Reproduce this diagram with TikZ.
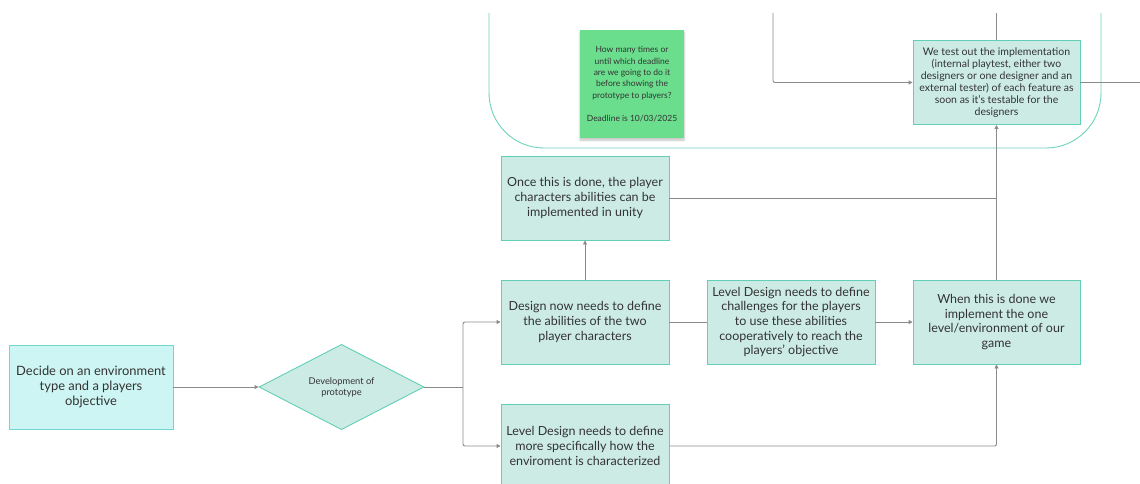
\documentclass[tikz,border=0pt]{standalone}
\usepackage{fontspec}
\setmainfont{Lato}
\usetikzlibrary{arrows.meta,shapes.geometric,shadows.blur}
\definecolor{boxfill}{HTML}{CCEBE5}
\definecolor{boxline}{HTML}{62CFB6}
\definecolor{startfill}{HTML}{CDF5F3}
\definecolor{startline}{HTML}{70D8D4}
\definecolor{wire}{HTML}{8A8A8A}
\definecolor{frame}{HTML}{6CD3BC}
\definecolor{note}{HTML}{6BDE8D}
\definecolor{ink}{HTML}{333333}
\begin{document}
\begin{tikzpicture}[x=1pt,y=-1pt,
  stepbox/.style={draw=boxline, fill=boxfill, line width=0.9pt,
    minimum width=168pt, minimum height=84pt, align=center,
    font=\fontsize{12.5}{14.6}\selectfont, text=ink, inner sep=2pt},
  conn/.style={draw=wire, line width=0.9pt, rounded corners=2pt},
  arr/.style={conn, -{Triangle[length=4pt,width=4pt]}},
  memo/.style={fill=note, minimum width=104pt, minimum height=108pt,
    align=center, font=\fontsize{8.5}{11.4}\selectfont, text=ink,
    blur shadow={shadow xshift=0pt, shadow yshift=-2pt, shadow blur steps=6, shadow opacity=25}}]
\useasboundingbox (0,0) rectangle (1140,483);

% surrounding loop frame
\draw[draw=frame, line width=0.9pt, rounded corners=55pt]
  (489,13) -- (489,148) -- (1101,148) -- (1101,13);

% sticky note
\node[memo] (memo) at (632,84) {How many times or\\until which deadline\\are we going to do it\\before showing the\\prototype to players?\\[11.4pt]Deadline is 10/03/2025};

% process steps
\node[stepbox, fill=startfill, draw=startline, minimum width=164pt,
  font=\fontsize{12.9}{15}\selectfont] (start) at (91,387)
  {Decide on an environment\\type and a players\\objective};
\node[diamond, draw=boxline, fill=boxfill, line width=0.9pt, inner sep=0pt,
  minimum width=165pt, minimum height=83pt, align=center, text=ink,
  font=\fontsize{9.3}{11}\selectfont] (dev) at (341.5,387)
  {Development of\\prototype};
\node[stepbox] (design) at (585,322)
  {Design now needs to define\\the abilities of the two\\player characters};
\node[stepbox] (once) at (585,198)
  {Once this is done, the player\\characters abilities can be\\implemented in unity};
\node[stepbox] (chal) at (791,322)
  {Level Design needs to define\\challenges for the players\\to use these abilities\\cooperatively to reach the\\players' objective};
\node[stepbox, minimum width=167pt] (when) at (996.5,322)
  {When this is done we\\implement the one\\level/environment of our\\game};
\node[stepbox] (env) at (585,446)
  {Level Design needs to define\\more specifically how the\\enviroment is characterized};
\node[stepbox, minimum width=167pt, font=\fontsize{10.5}{12}\selectfont] (test) at (996.5,82.5)
  {We test out the implementation\\(internal playtest, either two\\designers or one designer and an\\external tester) of each feature as\\soon as it's testable for the\\designers};

% connectors
\coordinate (split) at (463,387);
\coordinate (topA) at (773,13);
\coordinate (topB) at (996.5,13);
\coordinate (exitR) at (1140,82.5);
\draw[arr] (start.east) -- (dev.west);
\draw[conn] (dev.east) -- (split);
\draw[arr] (split) |- (design.west);
\draw[arr] (split) |- (env.west);
\draw[arr] (design.north) -- (once.south);
\draw[conn] (design.east) -- (chal.west);
\draw[arr] (chal.east) -- (when.west);
\draw[arr] (env.east) -| (when.south);
\draw[arr] (when.north) -- (test.south);
\draw[conn] (once.east) -- (once.east -| when.north);
\draw[arr] (topA) |- (test.west);
\draw[conn] (topB) -- (test.north);
\draw[conn] (test.east) -- (exitR);
\end{tikzpicture}
\end{document}
